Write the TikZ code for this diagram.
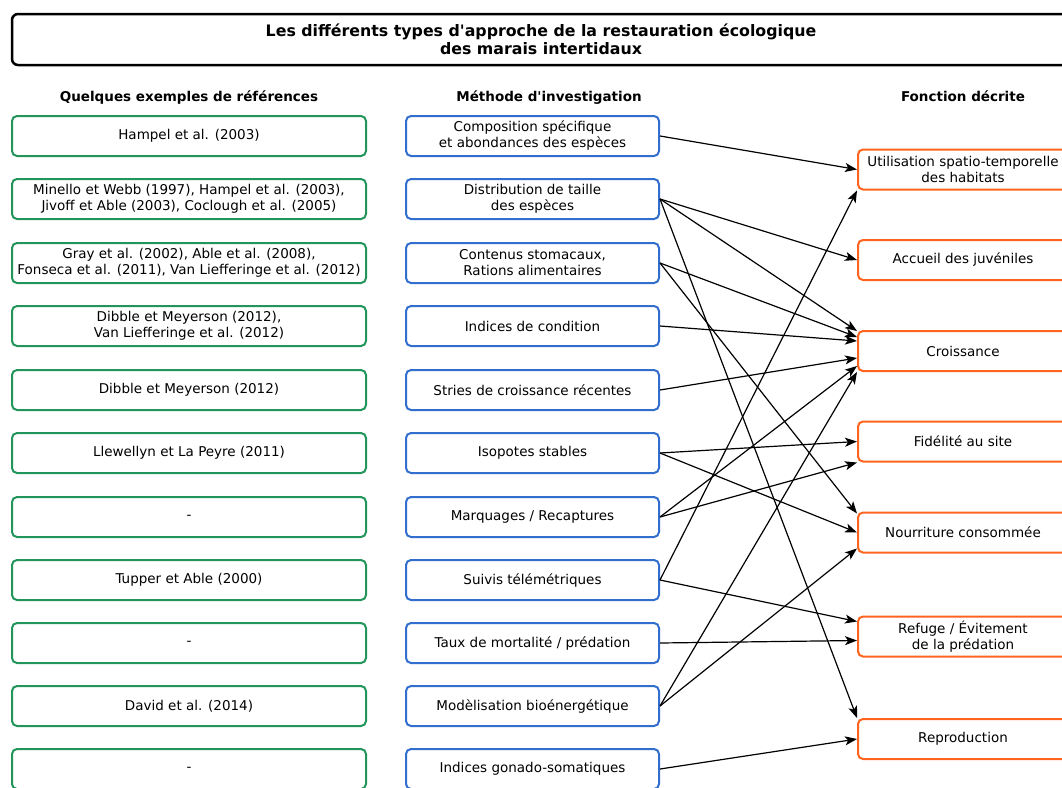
\documentclass[tikz,border=0pt]{standalone}
\usepackage{fontspec}
\setmainfont{DejaVu Sans}
\newfontfamily\dvs{DejaVu Sans}
\usetikzlibrary{arrows.meta}
\definecolor{refgreen}{RGB}{34,150,90}
\definecolor{methblue}{RGB}{50,110,205}
\definecolor{fctorange}{RGB}{255,100,30}
\begin{document}
\begin{tikzpicture}[x=1pt,y=-1pt,
  box/.style={draw, rounded corners=5pt, line width=2pt, minimum height=40pt, align=center, inner xsep=2pt, font=\dvs\fontsize{13.5}{16}\selectfont},
  refbox/.style={box, draw=refgreen, minimum width=354pt},
  methbox/.style={box, draw=methblue, minimum width=253pt},
  fctbox/.style={box, draw=fctorange, minimum width=210pt},
  hdr/.style={font=\dvs\bfseries\fontsize{13.5}{16}\selectfont, anchor=base},
  conn/.style={line width=1.2pt, -{Stealth[length=12pt,width=9pt,inset=3pt]}}]
\useasboundingbox (0,0) rectangle (1062,787);
\fill[white] (0,0) rectangle (1062,787);

\node[draw, line width=2.5pt, rounded corners=6pt, minimum width=1058pt, minimum height=51pt, align=center, font=\dvs\bfseries\fontsize{15.8}{18}\selectfont] (title) at (541,39.5) {Les différents types d'approche de la restauration écologique\\des marais intertidaux};

\node[hdr] (h1) at (189,101) {Quelques exemples de références};
\node[hdr] (h2) at (549,101) {Méthode d'investigation};
\node[hdr] (h3) at (963,101) {Fonction décrite};

% references
\node[refbox] (R1) at (189,136) {Hampel et al. (2003)};
\node[refbox] (R2) at (189,199) {Minello et Webb (1997), Hampel et al. (2003),\\Jivoff et Able (2003), Coclough et al. (2005)};
\node[refbox] (R3) at (189,263) {Gray et al. (2002), Able et al. (2008),\\Fonseca et al. (2011), Van Liefferinge et al. (2012)};
\node[refbox] (R4) at (189,326) {Dibble et Meyerson (2012),\\Van Liefferinge et al. (2012)};
\node[refbox] (R5) at (189,390) {Dibble et Meyerson (2012)};
\node[refbox] (R6) at (189,453) {Llewellyn et La Peyre (2011)};
\node[refbox] (R7) at (189,517) {-};
\node[refbox] (R8) at (189,580) {Tupper et Able (2000)};
\node[refbox] (R9) at (189,643) {-};
\node[refbox] (R10) at (189,706) {David et al. (2014)};
\node[refbox] (R11) at (189,769) {-};

% methods
\node[methbox] (M1) at (532.5,136) {Composition spécifique\\et abondances des espèces};
\node[methbox] (M2) at (532.5,199) {Distribution de taille\\des espèces};
\node[methbox] (M3) at (532.5,263) {Contenus stomacaux,\\Rations alimentaires};
\node[methbox] (M4) at (532.5,326) {Indices de condition};
\node[methbox] (M5) at (532.5,390) {Stries de croissance récentes};
\node[methbox] (M6) at (532.5,453) {Isopotes stables};
\node[methbox] (M7) at (532.5,517) {Marquages / Recaptures};
\node[methbox] (M8) at (532.5,580) {Suivis télémétriques};
\node[methbox] (M9) at (532.5,643) {Taux de mortalité / prédation};
\node[methbox] (M10) at (532.5,706) {Modèlisation bioénergétique};
\node[methbox] (M11) at (532.5,769) {Indices gonado-somatiques};

% functions
\node[fctbox] (F1) at (963,169.5) {Utilisation spatio-temporelle\\des habitats};
\node[fctbox] (F2) at (963,260) {Accueil des juvéniles};
\node[fctbox] (F3) at (963,351) {Croissance};
\node[fctbox] (F4) at (963,441.5) {Fidélité au site};
\node[fctbox] (F5) at (963,532.5) {Nourriture consommée};
\node[fctbox] (F6) at (963,636.5) {Refuge / Évitement\\de la prédation};
\node[fctbox] (F7) at (963,739) {Reproduction};

% connectors
\draw[conn] (M1.east) -- (F1.west);
\draw[conn] (M2.east) -- (F2.west);
\draw[conn] (M2.east) -- ([yshift=-1pt]F3.north west);
\draw[conn] (M2.east) -- (F7.north west);
\draw[conn] (M3.east) -- ([yshift=14pt]F3.west);
\draw[conn] (M3.east) -- ([yshift=-2pt]F5.north west);
\draw[conn] (M4.east) -- ([yshift=10pt]F3.west);
\draw[conn] (M5.east) -- ([yshift=-7pt]F3.west);
\draw[conn] (M6.east) -- (F4.west);
\draw[conn] (M6.east) -- (F5.west);
\draw[conn] (M7.east) -- ([yshift=-15pt]F3.west);
\draw[conn] (M7.east) -- (F4.south west);
\draw[conn] (M8.east) -- (F1.south west);
\draw[conn] (M8.east) -- ([yshift=-6pt]F6.north west);
\draw[conn] (M9.east) -- ([yshift=-4pt]F6.west);
\draw[conn] (M10.east) -- (F3.south west);
\draw[conn] (M10.east) -- ([yshift=5pt]F5.south west);
\draw[conn] (M11.east) -- (F7.west);
\end{tikzpicture}
\end{document}
